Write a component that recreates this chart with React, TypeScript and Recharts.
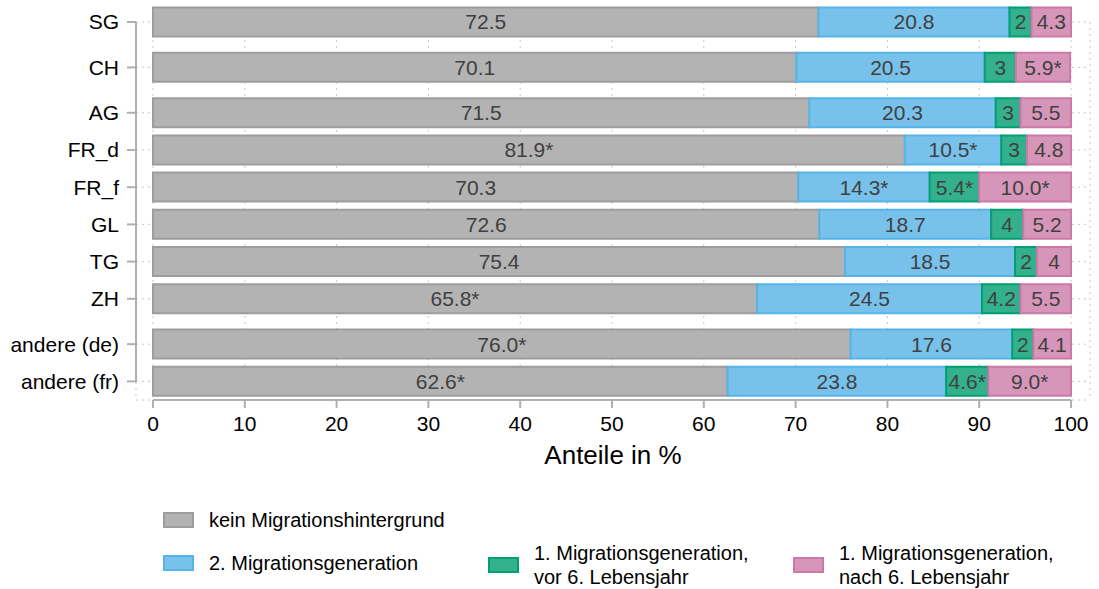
import React from 'react';
import {
  BarChart,
  Bar,
  XAxis,
  YAxis,
  CartesianGrid,
  LabelList,
  Legend,
  ReferenceLine,
} from 'recharts';

// categories, grouped (extra gap between groups)
const groups = [
  ['SG'],
  ['CH'],
  ['AG', 'FR_d', 'FR_f', 'GL', 'TG', 'ZH'],
  ['andere (de)', 'andere (fr)'],
];

const kein = [72.5, 70.1, 71.5, 81.9, 70.3, 72.6, 75.4, 65.8, 76.0, 62.6];
const zweite = [20.8, 20.5, 20.3, 10.5, 14.3, 18.7, 18.5, 24.5, 17.6, 23.8];
const vor6 = [2.4, 3.4, 2.7, 2.8, 5.4, 3.5, 2.4, 4.2, 2.3, 4.6];
const nach6 = [4.3, 5.9, 5.5, 4.8, 10.0, 5.2, 3.7, 5.5, 4.1, 9.0];

const keinLabels = ['72.5', '70.1', '71.5', '81.9*', '70.3', '72.6', '75.4', '65.8*', '76.0*', '62.6*'];
const zweiteLabels = ['20.8', '20.5', '20.3', '10.5*', '14.3*', '18.7', '18.5', '24.5', '17.6', '23.8'];
const vor6Labels = ['2', '3', '3', '3', '5.4*', '4', '2', '4.2', '2', '4.6*'];
const nach6Labels = ['4.3', '5.9*', '5.5', '4.8', '10.0*', '5.2', '4', '5.5', '4.1', '9.0*'];

const xTicks = [0, 10, 20, 30, 40, 50, 60, 70, 80, 90, 100];

const FONT = '"Liberation Sans", Arial, Helvetica, sans-serif';
const AXIS_COLOR = '#b0b0b0';
const GROUP_GAP = 0.22;
const PAD_LEFT = 17;
const PAD_RIGHT = 19;
const PLOT_LEFT = 136;
const PLOT_RIGHT = 1090;

const series = [
  { key: 'kein', name: 'kein Migrationshintergrund', fill: '#b3b3b3', stroke: '#9d9d9d' },
  { key: 'zweite', name: '2. Migrationsgeneration', fill: '#78c1eb', stroke: '#56b4e9' },
  { key: 'vor6', name: '1. Migrationsgeneration,\nvor 6. Lebensjahr', fill: '#33b08c', stroke: '#009e73' },
  { key: 'nach6', name: '1. Migrationsgeneration,\nnach 6. Lebensjahr', fill: '#d696b9', stroke: '#cc79a7' },
];

// slot position of each category along the y axis
const categories: string[] = [];
const positions: number[] = [];
{
  let p = 0;
  groups.forEach((g, gi) => {
    if (gi > 0) p += GROUP_GAP;
    g.forEach((c, ci) => {
      if (gi > 0 || ci > 0) p += 1;
      categories.push(c);
      positions.push(p);
    });
  });
}
const yMax = positions[positions.length - 1] + 0.5;

const data = categories.map((c, i) => ({
  name: c,
  pos: positions[i],
  kein: kein[i],
  zweite: zweite[i],
  vor6: vor6[i],
  nach6: nach6[i],
  kein_l: keinLabels[i],
  zweite_l: zweiteLabels[i],
  vor6_l: vor6Labels[i],
  nach6_l: nach6Labels[i],
}));

const legendSlots = [
  { left: 163, top: 38, height: 24 },
  { left: 163, top: 81, height: 24 },
  { left: 488, top: 71, height: 48 },
  { left: 793, top: 71, height: 48 },
];

function ChartLegend(props: any) {
  const payload = props.payload || [];
  return (
    <div style={{ position: 'relative', width: 1099, height: 119, fontFamily: FONT, fontSize: 20, color: '#000' }}>
      {payload.map((entry: any) => {
        const idx = series.findIndex((s) => s.key === entry.dataKey);
        if (idx < 0) return null;
        const s = series[idx];
        const slot = legendSlots[idx];
        return (
          <div
            key={s.key}
            style={{
              position: 'absolute',
              left: slot.left,
              top: slot.top,
              height: slot.height,
              display: 'flex',
              alignItems: 'center',
              whiteSpace: 'pre-line',
              lineHeight: '24px',
            }}
          >
            <span
              style={{
                display: 'inline-block',
                width: 27,
                height: 12,
                background: s.fill,
                border: `2px solid ${s.stroke}`,
                marginRight: 15,
                flexShrink: 0,
              }}
            />
            <span>{s.name}</span>
          </div>
        );
      })}
    </div>
  );
}

export default function App() {
  const xPerPx = 100 / (PLOT_RIGHT - PLOT_LEFT - PAD_LEFT - PAD_RIGHT);
  const yAxisX = -PAD_LEFT * xPerPx;

  return (
    <div style={{ position: 'absolute', left: 0, top: 0, width: 1099, height: 589, background: '#fff' }}>
      <BarChart
        width={1099}
        height={589}
        data={data}
        layout="vertical"
        margin={{ top: 22, right: 1099 - PLOT_RIGHT, left: 0, bottom: 0 }}
        style={{ fontFamily: FONT }}
      >
        <CartesianGrid strokeDasharray="2 4" stroke="#c8c8c8" />
        <XAxis
          type="number"
          domain={[0, 100]}
          ticks={xTicks}
          padding={{ left: PAD_LEFT, right: PAD_RIGHT }}
          axisLine={false}
          tickLine={{ stroke: AXIS_COLOR, strokeWidth: 2 }}
          tickSize={8}
          tickMargin={8}
          tick={{ fontSize: 21, fill: '#000' }}
          height={70}
          label={{ value: 'Anteile in %', position: 'insideBottom', offset: 6, fontSize: 26, fill: '#000' }}
        />
        <YAxis
          type="number"
          dataKey="pos"
          domain={[0, yMax]}
          ticks={positions}
          interval={0}
          tickFormatter={(v: number) => categories[positions.indexOf(v)] ?? ''}
          width={PLOT_LEFT}
          axisLine={false}
          tickLine={{ stroke: AXIS_COLOR, strokeWidth: 2 }}
          tickSize={9}
          tickMargin={8}
          tick={{ fontSize: 21, fill: '#000' }}
        />
        <Legend
          verticalAlign="bottom"
          content={<ChartLegend />}
          wrapperStyle={{ left: 0, bottom: 0, width: 1099, height: 119 }}
        />
        {series.map((s) => (
          <Bar
            key={s.key}
            dataKey={s.key}
            name={s.name}
            stackId="a"
            fill={s.fill}
            stroke={s.stroke}
            strokeWidth={2}
            barSize={29}
            isAnimationActive={false}
          >
            <LabelList dataKey={`${s.key}_l`} position="center" fill="#404040" fontSize={21} />
          </Bar>
        ))}
        <ReferenceLine
          segment={[
            { x: yAxisX, y: 0 },
            { x: yAxisX, y: positions[positions.length - 1] },
          ]}
          stroke={AXIS_COLOR}
          strokeWidth={2}
          ifOverflow="visible"
        />
        <ReferenceLine
          segment={[
            { x: 0, y: yMax },
            { x: 100, y: yMax },
          ]}
          stroke={AXIS_COLOR}
          strokeWidth={2}
          ifOverflow="visible"
        />
      </BarChart>
    </div>
  );
}
